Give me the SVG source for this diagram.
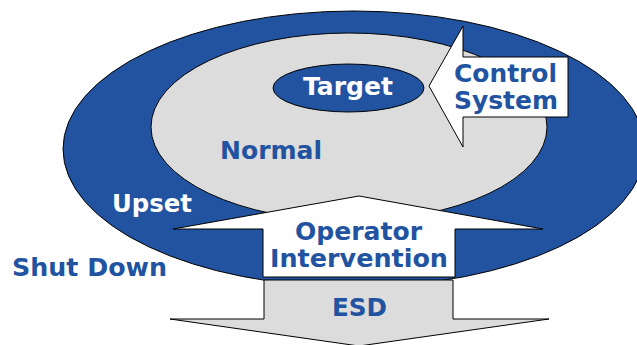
<svg xmlns="http://www.w3.org/2000/svg" width="637" height="345" viewBox="0 0 637 345">
<style>
.ring{fill:#2153A1;stroke:#000;stroke-width:1}
.grey{fill:#DCDCDC;stroke:#000;stroke-width:1}
.white{fill:#FFFFFF;stroke:#000;stroke-width:1}
.t{font-family:"DejaVu Sans","Verdana",sans-serif;font-weight:bold;font-size:25px}
.tb{fill:#2153A1}
.tw{fill:#FFFFFF}
</style>
<rect width="637" height="345" fill="#FFFFFF"/>
<g id="shutdown">
<ellipse class="ring" cx="354" cy="149" rx="291" ry="138"/>
</g>
<g id="normal">
<ellipse class="grey" cx="349" cy="127" rx="198" ry="94"/>
</g>
<g id="target">
<ellipse class="ring" cx="348.5" cy="88" rx="75.5" ry="24"/>
<text class="t tw" x="303" y="95" font-size="24" textLength="90" lengthAdjust="spacingAndGlyphs">Target</text>
</g>
<g id="control-system">
<polygon class="white" points="429,86 463,26 463,57 568,57 568,117 463,117 463,147"/>
<text class="t tb" x="454" y="82" textLength="103" lengthAdjust="spacingAndGlyphs">Control</text>
<text class="t tb" x="454" y="109" textLength="104" lengthAdjust="spacingAndGlyphs">System</text>
</g>
<g id="operator-intervention">
<polygon class="white" points="359,196 543,229 455,229 455,277 263,277 263,229 173,229"/>
<text class="t tb" x="295" y="240" textLength="127" lengthAdjust="spacingAndGlyphs">Operator</text>
<text class="t tb" x="270" y="267" textLength="178" lengthAdjust="spacingAndGlyphs">Intervention</text>
</g>
<g id="esd">
<polygon class="grey" points="264,280 453,280 453,319 549,319 359,346 170,319 264,319"/>
<text class="t tb" x="332" y="316" textLength="55" lengthAdjust="spacingAndGlyphs">ESD</text>
</g>
<g id="labels">
<text class="t tb" x="220" y="159" textLength="102" lengthAdjust="spacingAndGlyphs">Normal</text>
<text class="t tw" x="112" y="212" textLength="80" lengthAdjust="spacingAndGlyphs">Upset</text>
<text class="t tb" x="12" y="276" textLength="155" lengthAdjust="spacingAndGlyphs">Shut Down</text>
</g>
<g id="connectors"></g>
</svg>
